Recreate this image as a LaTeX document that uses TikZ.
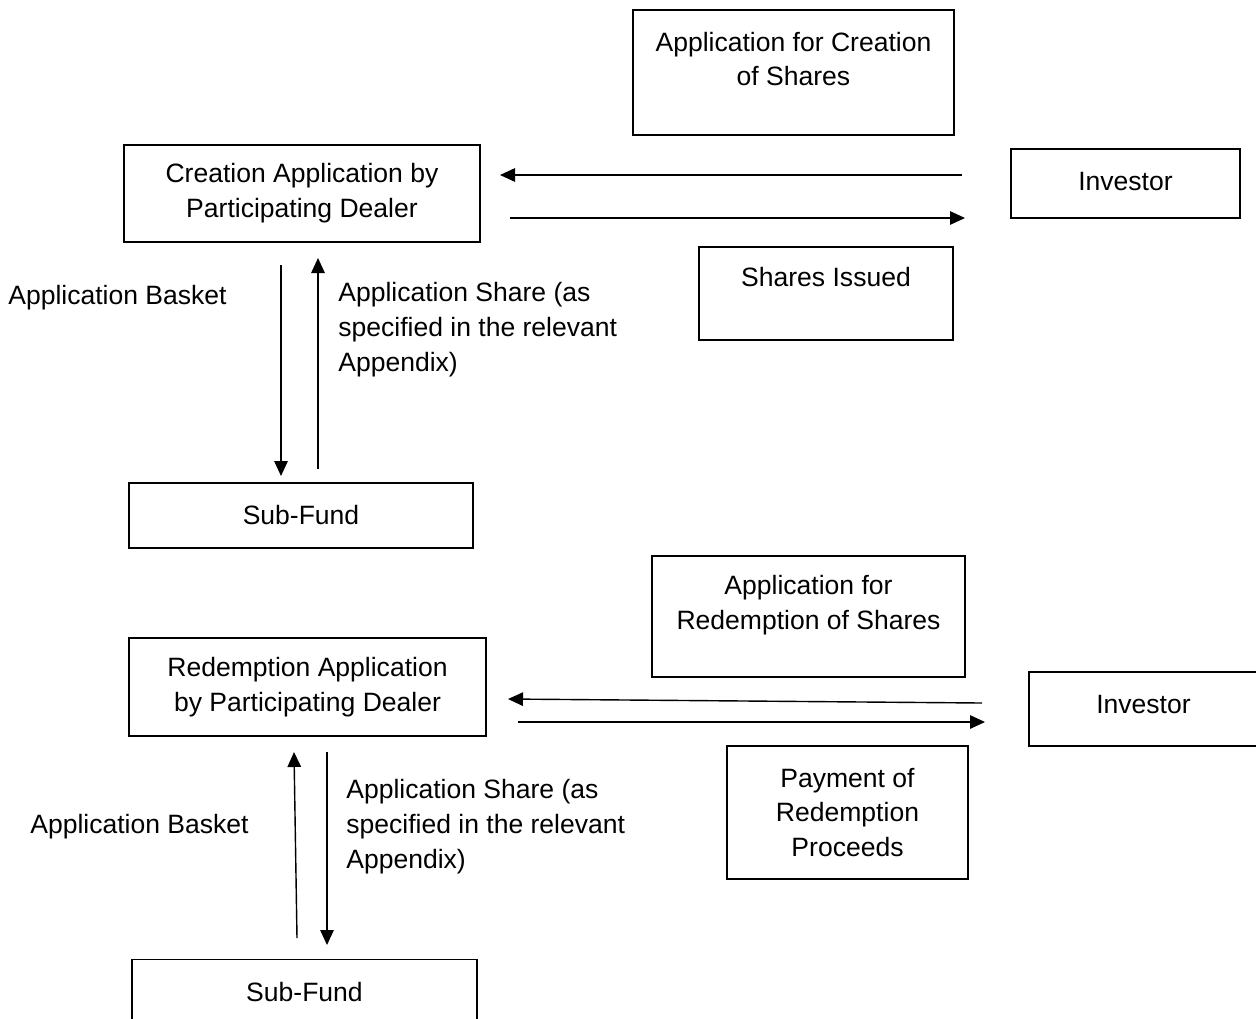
\documentclass[tikz,border=0pt]{standalone}
\usepackage{fontspec}
\setmainfont{Liberation Sans}
\usepackage{tikz}
\usetikzlibrary{arrows.meta}

\begin{document}
\begin{tikzpicture}[x=0.02cm, y=-0.02cm,
    box/.style={draw, line width=0.8pt, inner sep=0pt},
    txt/.style={font=\fontsize{15.1}{19.9}\selectfont, align=center, inner sep=0pt},
    flow/.style={-{Triangle[length=0.3cm, width=0.27cm]}, line width=0.8pt}]
\useasboundingbox (0,0) rectangle (1256,1018);
% creation
\node[box, minimum width=6.42cm, minimum height=2.5cm] (appC) at (793.5,72.5) {};
\node[txt] (appCtxt) at (793.5,59) {Application for Creation\\of Shares};
\node[box, txt, minimum width=7.12cm, minimum height=1.94cm] (crtPD) at (302,193.5) {Creation Application by\\Participating Dealer};
\node[box, minimum width=4.58cm, minimum height=1.38cm] (invA) at (1125.5,183.5) {};
\node[txt] (invAtxt) at (1125.5,181) {Investor};
\node[box, minimum width=5.08cm, minimum height=1.86cm] (issued) at (826,293.5) {};
\node[txt] (issuedtxt) at (826,277) {Shares Issued};
\node[box, txt, minimum width=6.88cm, minimum height=1.3cm] (subA) at (301,515.5) {Sub-Fund};
\node[txt, anchor=west] (basketA) at (8,298) {Application Basket};
\node[txt, anchor=west, align=left] (shareA) at (338,330) {Application Share (as\\specified in the relevant\\Appendix)};
\coordinate (a1) at (962,175); \coordinate (a2) at (500,175);
\coordinate (a3) at (510,218); \coordinate (a4) at (965,218);
\coordinate (a5) at (281,265); \coordinate (a6) at (281,476);
\coordinate (a7) at (318,469); \coordinate (a8) at (318,258);
\draw[flow] (a1) -- (a2);
\draw[flow] (a3) -- (a4);
\draw[flow] (a5) -- (a6);
\draw[flow] (a7) -- (a8);
% redemption
\node[box, minimum width=6.26cm, minimum height=2.42cm] (appR) at (808.5,616.5) {};
\node[txt] (appRtxt) at (808.5,605) {Application for\\Redemption of Shares};
\node[box, txt, minimum width=7.14cm, minimum height=1.96cm] (redPD) at (307.5,687) {Redemption Application\\by Participating Dealer};
\node[box, minimum width=4.58cm, minimum height=1.48cm] (invB) at (1143.5,709) {};
\node[txt] (invBtxt) at (1143.5,704) {Investor};
\node[box, txt, minimum width=4.82cm, minimum height=2.66cm] (pay) at (847.5,812.5) {Payment of\\Redemption\\Proceeds};
\node[box, txt, minimum width=6.9cm, minimum height=1.3cm] (subB) at (304.5,992) {Sub-Fund};
\node[txt, anchor=west] (basketB) at (30,827) {Application Basket};
\node[txt, anchor=west, align=left] (shareB) at (346,827) {Application Share (as\\specified in the relevant\\Appendix)};
\coordinate (b1) at (982,703); \coordinate (b2) at (508,699);
\coordinate (b3) at (518,722); \coordinate (b4) at (985,722);
\coordinate (b5) at (297,938); \coordinate (b6) at (294,752);
\coordinate (b7) at (327,752); \coordinate (b8) at (327,945);
\draw[flow] (b1) -- (b2);
\draw[flow] (b3) -- (b4);
\draw[flow] (b5) -- (b6);
\draw[flow] (b7) -- (b8);
\end{tikzpicture}
\end{document}
